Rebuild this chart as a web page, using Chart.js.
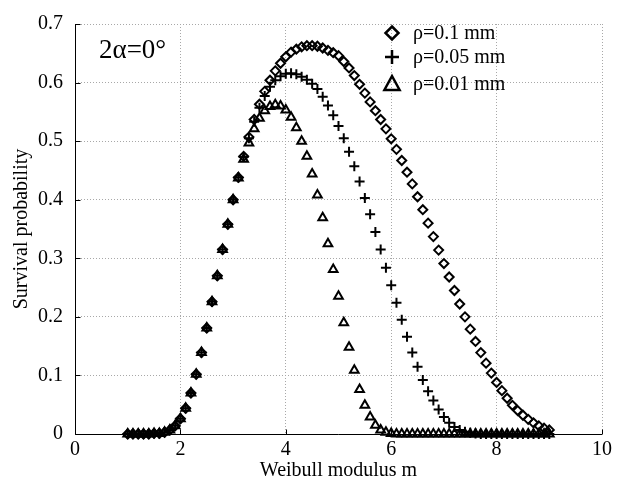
<!DOCTYPE html>
<html>
<head>
<meta charset="utf-8">
<script src="https://cdn.jsdelivr.net/npm/chart.js@4/dist/chart.umd.min.js"></script>
<style>
  html, body { margin: 0; padding: 0; background: #fff; }
  #wrap { width: 628px; height: 486px; }
</style>
</head>
<body>
<div id="wrap"><canvas id="survChart" width="628" height="486"></canvas></div>
<script>
// Weibull modulus m (x values)
const modulus = [
  1.0, 1.1, 1.2, 1.3, 1.4, 1.5, 1.6, 1.7, 1.8, 1.9,
  2.0, 2.1, 2.2, 2.3, 2.4, 2.5, 2.6, 2.7, 2.8, 2.9,
  3.0, 3.1, 3.2, 3.3, 3.4, 3.5, 3.6, 3.7, 3.8, 3.9,
  4.0, 4.1, 4.2, 4.3, 4.4, 4.5, 4.6, 4.7, 4.8, 4.9,
  5.0, 5.1, 5.2, 5.3, 5.4, 5.5, 5.6, 5.7, 5.8, 5.9,
  6.0, 6.1, 6.2, 6.3, 6.4, 6.5, 6.6, 6.7, 6.8, 6.9,
  7.0, 7.1, 7.2, 7.3, 7.4, 7.5, 7.6, 7.7, 7.8, 7.9,
  8.0, 8.1, 8.2, 8.3, 8.4, 8.5, 8.6, 8.7, 8.8, 8.9,
  9.0
];

// survival probability, rho = 0.1 mm
const rho01 = [
  0, 0, 0, 0, 0, 0.001, 0.001, 0.003, 0.007, 0.014,
  0.026, 0.044, 0.070, 0.102, 0.139, 0.181, 0.226, 0.270, 0.315, 0.358,
  0.400, 0.438, 0.474, 0.507, 0.537, 0.563, 0.585, 0.604, 0.620, 0.633,
  0.644, 0.652, 0.657, 0.661, 0.663, 0.663, 0.662, 0.659, 0.655, 0.651,
  0.646, 0.636, 0.625, 0.612, 0.597, 0.582, 0.567, 0.552, 0.537, 0.521,
  0.504, 0.486, 0.467, 0.447, 0.427, 0.405, 0.383, 0.360, 0.337, 0.314,
  0.291, 0.268, 0.245, 0.222, 0.200, 0.179, 0.158, 0.139, 0.121, 0.104,
  0.088, 0.074, 0.061, 0.049, 0.040, 0.032, 0.025, 0.019, 0.014, 0.010,
  0.007
];

// survival probability, rho = 0.05 mm
const rho005 = [
  0, 0, 0, 0, 0, 0.001, 0.001, 0.003, 0.007, 0.014,
  0.026, 0.044, 0.070, 0.102, 0.139, 0.181, 0.226, 0.270, 0.315, 0.358,
  0.400, 0.438, 0.473, 0.505, 0.533, 0.557, 0.577, 0.593, 0.604, 0.611,
  0.615, 0.616, 0.614, 0.610, 0.605, 0.598, 0.589, 0.576, 0.561, 0.544,
  0.526, 0.505, 0.482, 0.457, 0.431, 0.403, 0.375, 0.345, 0.315, 0.284,
  0.254, 0.224, 0.195, 0.166, 0.139, 0.115, 0.092, 0.073, 0.057, 0.042,
  0.029, 0.019, 0.012, 0.007, 0.004, 0.002, 0.001, 0, 0, 0,
  0, 0, 0, 0, 0, 0, 0, 0, 0, 0,
  0
];

// survival probability, rho = 0.01 mm
const rho001 = [
  0, 0, 0, 0, 0, 0.001, 0.001, 0.003, 0.007, 0.014,
  0.026, 0.044, 0.070, 0.102, 0.139, 0.181, 0.226, 0.270, 0.315, 0.358,
  0.400, 0.437, 0.469, 0.497, 0.521, 0.539, 0.552, 0.559, 0.562, 0.560,
  0.553, 0.541, 0.523, 0.500, 0.474, 0.444, 0.408, 0.369, 0.325, 0.281,
  0.235, 0.190, 0.148, 0.109, 0.076, 0.049, 0.029, 0.015, 0.007, 0.003,
  0.001, 0, 0, 0, 0, 0, 0, 0, 0, 0,
  0, 0, 0, 0, 0, 0, 0, 0, 0, 0,
  0, 0, 0, 0, 0, 0, 0, 0, 0, 0,
  0
];

const seriesLabels = ["ρ=0.1 mm", "ρ=0.05 mm", "ρ=0.01 mm"];
const xTicks = [0, 2, 4, 6, 8, 10];
const yTicks = [0, 0.1, 0.2, 0.3, 0.4, 0.5, 0.6, 0.7];
const note = "2α=0°";

const serif = '"Liberation Serif", "Times New Roman", serif';

function pts(ys) {
  return modulus.map((m, i) => ({ x: m, y: ys[i] }));
}

// little marker painter for the legend box
function drawMarker(ctx, style, x, y, r) {
  ctx.beginPath();
  if (style === "rectRot") {
    ctx.moveTo(x, y - r); ctx.lineTo(x + r, y); ctx.lineTo(x, y + r); ctx.lineTo(x - r, y);
    ctx.closePath();
  } else if (style === "cross") {
    ctx.moveTo(x - r, y); ctx.lineTo(x + r, y);
    ctx.moveTo(x, y - r); ctx.lineTo(x, y + r);
  } else if (style === "triangle") {
    ctx.moveTo(x, y - r);
    ctx.lineTo(x + r * 0.95, y + r * 0.75);
    ctx.lineTo(x - r * 0.95, y + r * 0.75);
    ctx.closePath();
  }
  ctx.stroke();
}

const extras = {
  id: "extras",
  afterDraw(chart) {
    const { ctx, chartArea, scales } = chart;
    ctx.save();
    ctx.setLineDash([]);
    ctx.strokeStyle = "#000";
    ctx.fillStyle = "#000";

    // solid axis lines + inward tick marks like the original
    ctx.lineWidth = 1;
    ctx.beginPath();
    const l = Math.round(chartArea.left) + 0.5;
    const b = Math.round(chartArea.bottom) + 0.5;
    ctx.moveTo(l, chartArea.top); ctx.lineTo(l, b); ctx.lineTo(chartArea.right, b);
    yTicks.forEach(v => {
      const py = Math.round(scales.y.getPixelForValue(v)) + 0.5;
      ctx.moveTo(l, py); ctx.lineTo(l + 5, py);
    });
    xTicks.forEach(v => {
      const px = Math.round(scales.x.getPixelForValue(v)) + 0.5;
      ctx.moveTo(px, b); ctx.lineTo(px, b - 5);
    });
    ctx.stroke();

    // annotation
    ctx.font = "27px " + serif;
    ctx.textBaseline = "alphabetic";
    ctx.fillText(note, 99, 58);

    // legend
    const styles = ["rectRot", "cross", "triangle"];
    const sizes = [6.5, 7, 8];
    const rowY = [33, 57, 84];
    ctx.lineWidth = 2.5;
    ctx.font = "20px " + serif;
    ctx.textBaseline = "middle";
    styles.forEach((s, i) => {
      drawMarker(ctx, s, 392, rowY[i], sizes[i]);
      ctx.fillText(seriesLabels[i], 413, rowY[i] + 1);
    });
    ctx.restore();
  }
};

const common = {
  showLine: false,
  clip: false,
  borderColor: "#000",
  backgroundColor: "rgba(0,0,0,0)",
  pointBorderColor: "#000",
  pointBackgroundColor: "rgba(0,0,0,0)",
  pointBorderWidth: 2,
  pointHoverRadius: 5
};

new Chart(document.getElementById("survChart"), {
  type: "scatter",
  data: {
    datasets: [
      { ...common, label: seriesLabels[0], data: pts(rho01), pointStyle: "rectRot", pointRadius: 4.5 },
      { ...common, label: seriesLabels[1], data: pts(rho005), pointStyle: "cross", pointRadius: 5 },
      { ...common, label: seriesLabels[2], data: pts(rho001), pointStyle: "triangle", pointRadius: 5 }
    ]
  },
  options: {
    responsive: false,
    animation: false,
    layout: { padding: { top: 16, right: 26, left: 0, bottom: 0 } },
    plugins: { legend: { display: false }, tooltip: { enabled: false } },
    scales: {
      x: {
        type: "linear",
        min: 0,
        max: 10,
        afterBuildTicks: s => { s.ticks = xTicks.map(v => ({ value: v })); },
        afterFit: s => { s.height = 52; },
        grid: { color: "#a8a8a8", drawTicks: false },
        border: { display: false, dash: [1, 2] },
        ticks: { color: "#000", font: { family: serif, size: 20 }, padding: 4, maxRotation: 0 },
        title: { display: true, text: "Weibull modulus m", color: "#000", font: { family: serif, size: 20 }, padding: { top: 0, bottom: 3 } }
      },
      y: {
        type: "linear",
        min: 0,
        max: 0.7,
        afterBuildTicks: s => { s.ticks = yTicks.map(v => ({ value: v })); },
        afterFit: s => { s.width = 75; },
        grid: { color: "#a8a8a8", drawTicks: false },
        border: { display: false, dash: [1, 2] },
        ticks: {
          color: "#000",
          font: { family: serif, size: 20 },
          padding: 12,
          callback: v => (v === 0 ? "0" : v.toFixed(1))
        },
        title: { display: true, text: "Survival probability", color: "#000", font: { family: serif, size: 20 }, padding: { top: 10, bottom: 0 } }
      }
    }
  },
  plugins: [extras]
});
</script>
</body>
</html>
